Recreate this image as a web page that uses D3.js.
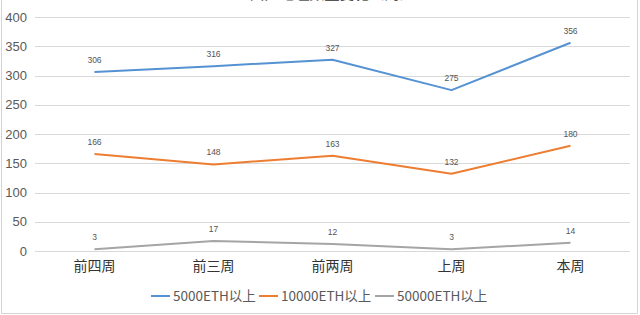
<!DOCTYPE html>
<html>
<head>
  <meta charset="utf-8">
  <script src="https://cdn.jsdelivr.net/npm/d3@7"></script>
  <style>
    body { margin: 0; background: #fff; }
    text { font-family: "Noto Sans CJK SC", "Liberation Sans", sans-serif; }
  </style>
</head>
<body>
<script>
  // chart data
  var weeks = ["前四周", "前三周", "前两周", "上周", "本周"];
  var seriesNames = ["5000ETH以上", "10000ETH以上", "50000ETH以上"];
  var eth5000 = [306, 316, 327, 275, 356];
  var eth10000 = [166, 148, 163, 132, 180];
  var eth50000 = [3, 17, 12, 3, 14];
  var yTicks = [0, 50, 100, 150, 200, 250, 300, 350, 400];
  var colors = ["#5592d2", "#ed7d31", "#a5a5a5"];

  var allSeries = [eth5000, eth10000, eth50000];

  var W = 640, H = 315;
  var svg = d3.select("body").append("svg")
    .attr("width", W).attr("height", H);

  // outer frame (top edge is cut off in the picture)
  svg.append("path")
    .attr("d", "M1.5,0 V313.5 H637.5 V0")
    .attr("fill", "none").attr("stroke", "#d4d4d4");

  // title, mostly clipped above the view
  svg.append("text")
    .attr("x", 332).attr("y", -1.5)
    .attr("text-anchor", "middle")
    .attr("font-size", 15).attr("font-weight", "bold")
    .attr("fill", "#555")
    .text("大户地址数量变化（周）");

  var x = d3.scaleBand().domain(weeks).range([35, 630]);
  var y = d3.scaleLinear().domain([0, 400]).range([251, 17]);

  // grid
  svg.append("g").selectAll("line").data(yTicks).join("line")
    .attr("x1", 35).attr("x2", 630)
    .attr("y1", d => Math.round(y(d)) + 0.5).attr("y2", d => Math.round(y(d)) + 0.5)
    .attr("stroke", "#d9d9d9").attr("stroke-width", 1);

  // y axis labels
  var yAxis = d3.axisLeft(y).tickValues(yTicks).tickSize(0).tickPadding(0);
  var yg = svg.append("g").attr("transform", "translate(27,0)").call(yAxis);
  yg.select(".domain").remove();
  yg.selectAll("text").attr("font-size", 13).attr("fill", "#595959")
    .style("font-family", "'Liberation Sans', sans-serif");

  // x axis labels
  var xAxis = d3.axisBottom(x).tickSize(0).tickPadding(0);
  var xg = svg.append("g").attr("transform", "translate(0,261)").call(xAxis);
  xg.select(".domain").remove();
  xg.selectAll("text").attr("font-size", 14).attr("fill", "#333");

  var cx = d => x(d) + x.bandwidth() / 2;
  var line = d3.line().x((d, i) => cx(weeks[i])).y(d => y(d));

  allSeries.forEach(function (vals, k) {
    svg.append("path").datum(vals)
      .attr("d", line)
      .attr("fill", "none")
      .attr("stroke", colors[k])
      .attr("stroke-width", 2)
      .attr("stroke-linejoin", "round");

    svg.append("g").selectAll("text").data(vals).join("text")
      .attr("x", (d, i) => cx(weeks[i]))
      .attr("y", d => y(d) - 9)
      .attr("text-anchor", "middle")
      .attr("font-size", 8.5)
      .attr("fill", "#555")
      .style("font-family", "'Liberation Sans', sans-serif")
      .text(d => d);
  });

  // legend
  var legendX = [151, 259, 375];
  var lg = svg.append("g");
  seriesNames.forEach(function (name, k) {
    lg.append("line")
      .attr("x1", legendX[k]).attr("x2", legendX[k] + 19)
      .attr("y1", 296).attr("y2", 296)
      .attr("stroke", colors[k]).attr("stroke-width", 2);
    lg.append("text")
      .attr("x", legendX[k] + 22).attr("y", 301)
      .attr("font-size", 13.5).attr("fill", "#595959")
      .text(name);
  });
</script>
</body>
</html>
